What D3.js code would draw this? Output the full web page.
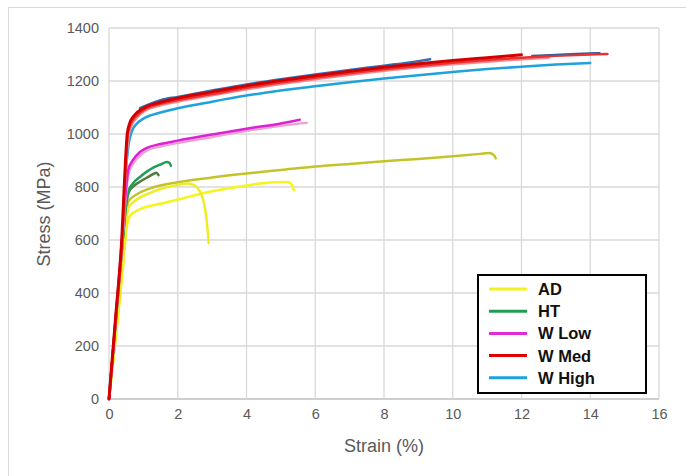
<!DOCTYPE html>
<html lang="en">
  <head>
    <meta charset="utf-8">
    <title>Stress-strain curves</title>
    <script src="https://d3js.org/d3.v7.min.js"></script>
    <style>
      body { margin: 0; background: #fff; }
    </style>
  </head>
  <body>
    <div id="chart"></div>

    <script type="text/javascript">
      // eixos
      var xTicks = [0, 2, 4, 6, 8, 10, 12, 14, 16];
      var yTicks = [0, 200, 400, 600, 800, 1000, 1200, 1400];
      var grupos = ["AD", "HT", "W Low", "W Med", "W High"];
      var coresGrupo = ["#f2f21e", "#1f9f55", "#e22ad6", "#e00000", "#1fa2dc"];

      // curvas [strain %, stress MPa]
      var adOliva = [[0,0],[0.2,250],[0.4,520],[0.5,690],[0.56,745],[0.8,772],[1.2,795],[2,818],[3,836],[4,851],[5,864],[6,877],[7,887],[8,897],[9,906],[10,916],[10.8,925],[11.05,928],[11.2,920],[11.25,908]];
      var adCurto = [[0,0],[0.2,240],[0.4,500],[0.5,660],[0.56,722],[0.8,752],[1.2,778],[1.6,796],[2,808],[2.3,813],[2.5,805],[2.65,782],[2.77,735],[2.85,665],[2.9,588]];
      var adMedio = [[0,0],[0.2,235],[0.4,490],[0.52,650],[0.62,693],[0.9,716],[1.5,737],[2,753],[3,784],[4,806],[4.8,818],[5.2,819],[5.33,806],[5.38,788]];
      var htVerde = [[0,0],[0.2,300],[0.4,600],[0.5,740],[0.58,790],[0.7,814],[0.9,838],[1.1,858],[1.3,874],[1.5,885],[1.68,894],[1.76,891],[1.8,880]];
      var htEscuro = [[0,0],[0.2,300],[0.4,600],[0.5,735],[0.58,782],[0.7,801],[0.9,820],[1.1,835],[1.3,850],[1.38,854],[1.44,845]];
      var lowMagenta = [[0,0],[0.2,310],[0.4,640],[0.5,800],[0.56,865],[0.7,902],[0.9,932],[1.1,948],[1.5,962],[2,975],[3,998],[4,1020],[5,1040],[5.55,1054]];
      var lowRosa = [[0,0],[0.2,300],[0.4,620],[0.5,780],[0.57,850],[0.7,888],[0.9,918],[1.1,938],[1.5,953],[2,966],[3,989],[4,1012],[5,1031],[5.75,1042]];
      var medEscuro = [[0,0],[0.2,320],[0.37,600],[0.48,900],[0.53,1000],[0.6,1040],[0.72,1068],[1,1097],[1.5,1120],[2,1135],[3,1159],[4,1182],[5,1202],[6,1220],[7,1237],[8,1252],[9,1265],[10,1277],[11,1288],[12,1299]];
      var medLongo = [[0,0],[0.2,315],[0.38,600],[0.49,900],[0.54,995],[0.62,1035],[0.75,1062],[1,1090],[1.5,1114],[2,1128],[3,1151],[4,1174],[5,1194],[6,1212],[7,1229],[8,1244],[9,1257],[10,1269],[11,1279],[12,1288],[13,1295],[14,1300],[14.5,1302]];
      var medRosa = [[0,0],[0.2,310],[0.39,600],[0.5,890],[0.56,985],[0.65,1030],[0.8,1060],[1,1084],[1.5,1108],[2,1122],[3,1146],[4,1169],[5,1189],[6,1207],[7,1224],[8,1239],[9,1252],[10,1263],[11,1273],[12,1282],[12.8,1288]];
      var highCiano = [[0,0],[0.2,310],[0.38,590],[0.5,870],[0.57,960],[0.66,1008],[0.8,1038],[1,1058],[1.5,1081],[2,1097],[3,1122],[4,1145],[5,1164],[6,1180],[7,1195],[8,1209],[9,1222],[10,1234],[11,1245],[12,1254],[13,1262],[14,1268]];
      var highAzul = [[0.9,1098],[1.5,1128],[2,1140],[3,1164],[4,1187],[5,1207],[6,1225],[7,1242],[8,1258],[9,1275],[9.34,1282]];
      var highMarinho = [[12.3,1296],[13,1300],[13.6,1304],[14.28,1307]];

      var curvas = [
        {pts: highCiano, cor: "#1fa2dc", w: 2.5},
        {pts: highAzul, cor: "#2f6db5", w: 2.5},
        {pts: adOliva, cor: "#c4c42a", w: 2.5},
        {pts: adMedio, cor: "#f5f51c", w: 2.5},
        {pts: adCurto, cor: "#eded26", w: 2.5},
        {pts: htEscuro, cor: "#4f7d3c", w: 2.5},
        {pts: htVerde, cor: "#1f9f55", w: 2.5},
        {pts: lowRosa, cor: "#eea0d2", w: 2.5},
        {pts: lowMagenta, cor: "#dc22d2", w: 2.5},
        {pts: medRosa, cor: "#f28a94", w: 2.5},
        {pts: medLongo, cor: "#ee3030", w: 2.5},
        {pts: medEscuro, cor: "#d40000", w: 3},
        {pts: highMarinho, cor: "#3b5c98", w: 1.5}
      ];

      var fonte = "'Liberation Sans', Arial, sans-serif";
      var largura = 686, altura = 476;
      var margin = {top: 28, right: 27, bottom: 77, left: 109};

      var svg = d3.select("#chart").append("svg")
                  .attr("width", largura)
                  .attr("height", altura);

      // moldura cinza da area do grafico
      svg.append("rect")
        .attr("x", 8.5).attr("y", 7.5)
        .attr("width", 720).attr("height", 520)
        .attr("fill", "none").attr("stroke", "#d9d9d9");

      var x = d3.scaleLinear().domain([0, 16]).range([margin.left, largura - margin.right]);
      var y = d3.scaleLinear().domain([0, 1400]).range([altura - margin.bottom, margin.top]);

      // grade
      svg.append("g").selectAll("line").data(yTicks).enter().append("line")
        .attr("x1", x(0)).attr("x2", x(16))
        .attr("y1", d => y(d)).attr("y2", d => y(d))
        .attr("stroke", d => d === 0 ? "#bfbfbf" : "#d9d9d9").attr("stroke-width", 1.3);
      svg.append("g").selectAll("line").data(xTicks).enter().append("line")
        .attr("x1", d => x(d)).attr("x2", d => x(d))
        .attr("y1", y(0)).attr("y2", y(1400))
        .attr("stroke", "#d9d9d9").attr("stroke-width", 1.3);

      var eixoX = svg.append("g")
        .attr("transform", "translate(0," + (y(0) + 4) + ")")
        .call(d3.axisBottom(x).tickValues(xTicks).tickFormat(d3.format("d")).tickSize(0).tickPadding(6));
      var eixoY = svg.append("g")
        .attr("transform", "translate(" + (x(0) - 6) + ",0)")
        .call(d3.axisLeft(y).tickValues(yTicks).tickFormat(d3.format("d")).tickSize(0).tickPadding(4));
      eixoX.select(".domain").remove();
      eixoY.select(".domain").remove();
      svg.selectAll(".tick text")
        .style("font-family", fonte)
        .style("font-size", "14.5px")
        .style("fill", "#595959");

      svg.append("text")
        .attr("x", 384).attr("y", 452)
        .text("Strain (%)");
      svg.append("text")
        .attr("transform", "translate(50,214) rotate(-90)")
        .text("Stress (MPa)");
      svg.selectAll("svg > text")
        .style("font-family", fonte)
        .style("font-size", "18px")
        .style("fill", "#595959")
        .style("text-anchor", "middle");

      // curvas
      var linha = d3.line().x(d => x(d[0])).y(d => y(d[1])).curve(d3.curveMonotoneX);
      svg.append("g").selectAll("path").data(curvas).enter().append("path")
        .attr("d", d => linha(d.pts))
        .attr("fill", "none")
        .attr("stroke", d => d.cor)
        .attr("stroke-width", d => d.w)
        .attr("stroke-linejoin", "round")
        .attr("stroke-linecap", "round");

      // legenda
      var leg = svg.append("g");
      leg.append("rect")
        .attr("x", 478).attr("y", 275).attr("width", 168).attr("height", 118)
        .attr("fill", "#fff").attr("stroke", "#000").attr("stroke-width", 2);
      var itens = leg.selectAll("g.item").data(grupos).enter().append("g")
        .attr("class", "item")
        .attr("transform", (d, i) => "translate(0," + (289 + i * 22.2) + ")");
      itens.append("line")
        .attr("x1", 489).attr("x2", 527)
        .attr("stroke", (d, i) => coresGrupo[i]).attr("stroke-width", 3);
      itens.append("text")
        .attr("x", 538).attr("y", 6)
        .style("font-family", fonte)
        .style("font-size", "16.5px")
        .style("font-weight", "bold")
        .style("fill", "#111")
        .text(d => d);
    </script>
  </body>
</html>
